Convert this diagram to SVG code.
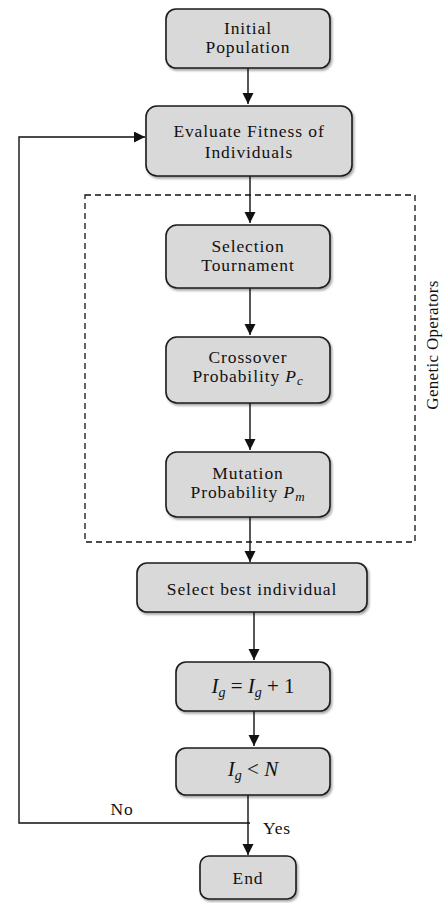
<svg xmlns="http://www.w3.org/2000/svg" width="448" height="903" viewBox="0 0 448 903">
<style>
.box{fill:#d9d9d9;stroke:#1a1a1a;stroke-width:1.6;filter:url(#sh)}
.t{font-family:"Liberation Serif","Times New Roman",serif;font-size:17.5px;letter-spacing:0.9px;fill:#111;text-anchor:middle}
.m{font-family:"Liberation Serif","Times New Roman",serif;font-size:21px;fill:#111;text-anchor:middle}
.ln{fill:none;stroke:#111;stroke-width:1.4}
.dash{fill:none;stroke:#111;stroke-width:1.3;stroke-dasharray:6,4}
</style>
<defs>
<filter id="sh" x="-10%" y="-10%" width="130%" height="140%">
<feDropShadow dx="1.5" dy="2" stdDeviation="1.2" flood-color="#000" flood-opacity="0.35"/>
</filter>
<marker id="ah" markerWidth="12" markerHeight="12" refX="11" refY="5.5" orient="auto" markerUnits="userSpaceOnUse">
<path d="M0,0 L11,5.5 L0,11 Z" fill="#111"/>
</marker>
</defs>
<g id="connectors">
<path class="ln" d="M248,68 V104" marker-end="url(#ah)"/>
<path class="ln" d="M250,176 V223" marker-end="url(#ah)"/>
<path class="ln" d="M250,288 V335" marker-end="url(#ah)"/>
<path class="ln" d="M250,403 V450" marker-end="url(#ah)"/>
<path class="ln" d="M250,517 V562" marker-end="url(#ah)"/>
<path class="ln" d="M254,612 V660" marker-end="url(#ah)"/>
<path class="ln" d="M254,711 V746" marker-end="url(#ah)"/>
<path class="ln" d="M248,795 V855" marker-end="url(#ah)"/>
<path class="ln" d="M250,823 H19 V137 H145" marker-end="url(#ah)"/>
<text class="t" x="122" y="815">No</text>
<text class="t" x="277" y="834">Yes</text>
</g>
<g id="genetic-operators">
<rect class="dash" x="85" y="195" width="330" height="347"/>
<text class="t" style="font-size:17px;letter-spacing:0.3px" transform="translate(438,345) rotate(-90)">Genetic Operators</text>
</g>
<g id="initial">
<rect class="box" x="166" y="9" width="164" height="59" rx="10"/>
<text class="t" x="248" y="34">Initial</text>
<text class="t" x="248" y="53">Population</text>
</g>
<g id="evaluate">
<rect class="box" x="146" y="106" width="206" height="70" rx="11"/>
<text class="t" x="249" y="137">Evaluate Fitness of</text>
<text class="t" x="249" y="158">Individuals</text>
</g>
<g id="selection">
<rect class="box" x="166" y="225" width="164" height="63" rx="11"/>
<text class="t" x="248" y="252">Selection</text>
<text class="t" x="248" y="271">Tournament</text>
</g>
<g id="crossover">
<rect class="box" x="166" y="337" width="164" height="66" rx="11"/>
<text class="t" x="248" y="363">Crossover</text>
<text class="t" x="248" y="382">Probability <tspan font-style="italic">P</tspan><tspan font-style="italic" font-size="13" dy="3">c</tspan></text>
</g>
<g id="mutation">
<rect class="box" x="166" y="452" width="164" height="65" rx="11"/>
<text class="t" x="248" y="479">Mutation</text>
<text class="t" x="248" y="498">Probability <tspan font-style="italic">P</tspan><tspan font-style="italic" font-size="13" dy="3">m</tspan></text>
</g>
<g id="select-best">
<rect class="box" x="137" y="563" width="230" height="49" rx="10"/>
<text class="t" x="252" y="595">Select best individual</text>
</g>
<g id="increment">
<rect class="box" x="176" y="662" width="154" height="49" rx="10"/>
<text class="m" x="253" y="693"><tspan font-style="italic">I</tspan><tspan font-style="italic" font-size="14" dy="4">g</tspan><tspan dy="-4"> = </tspan><tspan font-style="italic">I</tspan><tspan font-style="italic" font-size="14" dy="4">g</tspan><tspan dy="-4"> + 1</tspan></text>
</g>
<g id="condition">
<rect class="box" x="176" y="748" width="154" height="47" rx="10"/>
<text class="m" x="253" y="776"><tspan font-style="italic">I</tspan><tspan font-style="italic" font-size="14" dy="4">g</tspan><tspan dy="-4"> &lt; </tspan><tspan font-style="italic">N</tspan></text>
</g>
<g id="end">
<rect class="box" x="200" y="856" width="96" height="43" rx="9"/>
<text class="t" x="248" y="884">End</text>
</g>
</svg>
